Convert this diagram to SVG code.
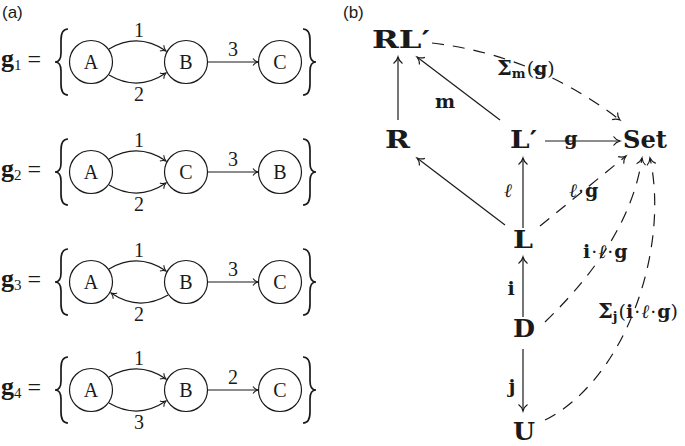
<svg xmlns="http://www.w3.org/2000/svg" width="685" height="446" viewBox="0 0 685 446">
<defs>
<style>
.ln{fill:none;stroke:#1a1a1a;stroke-width:1.2}
.ds{fill:none;stroke:#1a1a1a;stroke-width:1.2;stroke-dasharray:12 9}
.cir{fill:#fff;stroke:#1a1a1a;stroke-width:1.2}
.br{fill:none;stroke:#1a1a1a;stroke-width:1.7}
.t{font-family:"Liberation Serif","DejaVu Serif",serif;fill:#1a1a1a;font-size:20px}
.bt{font-family:"DejaVu Serif","Liberation Serif",serif;font-weight:bold;fill:#1a1a1a;font-size:25px}
.lb{font-family:"DejaVu Serif","Liberation Serif",serif;font-weight:bold;fill:#1a1a1a;font-size:19px}
.nw{font-weight:normal}
.sf{font-family:"Liberation Sans",Arial,sans-serif;fill:#1a1a1a;font-size:17px}
</style>
<marker id="ah" markerUnits="userSpaceOnUse" markerWidth="12" markerHeight="12" viewBox="-8 -6 10 12" refX="0" refY="0" orient="auto" overflow="visible">
<path d="M-6.5,-4.5 C-4.8,-2 -1.8,-0.5 0,0 C-1.8,0.5 -4.8,2 -6.5,4.5" fill="none" stroke="#1a1a1a" stroke-width="1.2" stroke-dasharray="none"/>
</marker>
<marker id="as" markerUnits="userSpaceOnUse" markerWidth="10" markerHeight="10" viewBox="-7 -5 9 10" refX="0" refY="0" orient="auto" overflow="visible">
<path d="M-5,-3.5 C-3.7,-1.5 -1.4,-0.4 0,0 C-1.4,0.4 -3.7,1.5 -5,3.5" fill="none" stroke="#1a1a1a" stroke-width="1.1"/>
</marker>
<path id="lbrace" d="M68,-33 C63,-33 61,-29 61,-22 L61,-9 C61,-3 59,0 55,0 C59,0 61,3 61,9 L61,22 C61,29 63,33 68,33"/>
<path id="rbrace" d="M303,-33 C308,-33 310,-29 310,-22 L310,-9 C310,-3 312,0 316,0 C312,0 310,3 310,9 L310,22 C310,29 308,33 303,33"/>
</defs>
<rect width="685" height="446" fill="#fff"/>

<text class="sf" x="2" y="18">(a)</text>
<text class="sf" x="343" y="18">(b)</text>

<!-- Row g1 -->
<g id="row-g1" transform="translate(0,62)">
<text class="t" x="1" y="5"><tspan font-weight="bold" font-size="26">g</tspan><tspan font-size="15" dy="3">1</tspan><tspan font-size="24" dy="-3" dx="6">=</tspan></text>
<use href="#lbrace" class="br"/>
<use href="#rbrace" class="br"/>
<g id="g1-edges">
<path class="ln" d="M109,-13 Q138,-30 166,-11" marker-end="url(#as)"/>
<path class="ln" d="M109,13 Q138,30 166,11" marker-end="url(#as)"/>
<path class="ln" d="M208,0 L258,0" marker-end="url(#as)"/>
<text class="t" x="139" y="-25" text-anchor="middle">1</text>
<text class="t" x="139" y="39" text-anchor="middle">2</text>
<text class="t" x="233" y="-6" text-anchor="middle">3</text>
</g>
<g id="g1-A"><circle class="cir" cx="91" cy="0" r="21.5"/><text class="t" x="91" y="7" text-anchor="middle">A</text></g>
<g id="g1-B"><circle class="cir" cx="186" cy="0" r="21.5"/><text class="t" x="186" y="7" text-anchor="middle">B</text></g>
<g id="g1-C"><circle class="cir" cx="280" cy="0" r="21.5"/><text class="t" x="280" y="7" text-anchor="middle">C</text></g>
</g>

<!-- Row g2 -->
<g id="row-g2" transform="translate(0,172)">
<text class="t" x="1" y="5"><tspan font-weight="bold" font-size="26">g</tspan><tspan font-size="15" dy="3">2</tspan><tspan font-size="24" dy="-3" dx="6">=</tspan></text>
<use href="#lbrace" class="br"/>
<use href="#rbrace" class="br"/>
<g id="g2-edges">
<path class="ln" d="M109,-13 Q138,-30 166,-11" marker-end="url(#as)"/>
<path class="ln" d="M109,13 Q138,30 166,11" marker-end="url(#as)"/>
<path class="ln" d="M208,0 L258,0" marker-end="url(#as)"/>
<text class="t" x="139" y="-25" text-anchor="middle">1</text>
<text class="t" x="139" y="39" text-anchor="middle">2</text>
<text class="t" x="233" y="-6" text-anchor="middle">3</text>
</g>
<g id="g2-A"><circle class="cir" cx="91" cy="0" r="21.5"/><text class="t" x="91" y="7" text-anchor="middle">A</text></g>
<g id="g2-C"><circle class="cir" cx="186" cy="0" r="21.5"/><text class="t" x="186" y="7" text-anchor="middle">C</text></g>
<g id="g2-B"><circle class="cir" cx="280" cy="0" r="21.5"/><text class="t" x="280" y="7" text-anchor="middle">B</text></g>
</g>

<!-- Row g3 -->
<g id="row-g3" transform="translate(0,282)">
<text class="t" x="1" y="5"><tspan font-weight="bold" font-size="26">g</tspan><tspan font-size="15" dy="3">3</tspan><tspan font-size="24" dy="-3" dx="6">=</tspan></text>
<use href="#lbrace" class="br"/>
<use href="#rbrace" class="br"/>
<g id="g3-edges">
<path class="ln" d="M109,-13 Q138,-30 166,-11" marker-end="url(#as)"/>
<path class="ln" d="M168,13 Q139,30 111,11" marker-end="url(#as)"/>
<path class="ln" d="M208,0 L258,0" marker-end="url(#as)"/>
<text class="t" x="139" y="-25" text-anchor="middle">1</text>
<text class="t" x="139" y="39" text-anchor="middle">2</text>
<text class="t" x="233" y="-6" text-anchor="middle">3</text>
</g>
<g id="g3-A"><circle class="cir" cx="91" cy="0" r="21.5"/><text class="t" x="91" y="7" text-anchor="middle">A</text></g>
<g id="g3-B"><circle class="cir" cx="186" cy="0" r="21.5"/><text class="t" x="186" y="7" text-anchor="middle">B</text></g>
<g id="g3-C"><circle class="cir" cx="280" cy="0" r="21.5"/><text class="t" x="280" y="7" text-anchor="middle">C</text></g>
</g>

<!-- Row g4 -->
<g id="row-g4" transform="translate(0,390)">
<text class="t" x="1" y="5"><tspan font-weight="bold" font-size="26">g</tspan><tspan font-size="15" dy="3">4</tspan><tspan font-size="24" dy="-3" dx="6">=</tspan></text>
<use href="#lbrace" class="br"/>
<use href="#rbrace" class="br"/>
<g id="g4-edges">
<path class="ln" d="M109,-13 Q138,-30 166,-11" marker-end="url(#as)"/>
<path class="ln" d="M109,13 Q138,30 166,11" marker-end="url(#as)"/>
<path class="ln" d="M208,0 L258,0" marker-end="url(#as)"/>
<text class="t" x="139" y="-25" text-anchor="middle">1</text>
<text class="t" x="139" y="39" text-anchor="middle">3</text>
<text class="t" x="233" y="-6" text-anchor="middle">2</text>
</g>
<g id="g4-A"><circle class="cir" cx="91" cy="0" r="21.5"/><text class="t" x="91" y="7" text-anchor="middle">A</text></g>
<g id="g4-B"><circle class="cir" cx="186" cy="0" r="21.5"/><text class="t" x="186" y="7" text-anchor="middle">B</text></g>
<g id="g4-C"><circle class="cir" cx="280" cy="0" r="21.5"/><text class="t" x="280" y="7" text-anchor="middle">C</text></g>
</g>

<!-- Panel (b) connectors -->
<g id="connectors">
<path class="ln" d="M398,120 L398,57" marker-end="url(#ah)"/>
<path class="ln" d="M500,120 L417,57" marker-end="url(#ah)"/>
<path class="ln" d="M545,141 L620,141" marker-end="url(#ah)"/>
<path class="ds" d="M432,43 Q535,55 620,120" marker-end="url(#ah)"/>
<path class="ln" d="M505,225 L417,158" marker-end="url(#ah)"/>
<path class="ln" d="M523,228 L523,158" marker-end="url(#ah)"/>
<path class="ds" d="M540,226 L626,156" marker-end="url(#ah)"/>
<path class="ln" d="M523,317 L523,257" marker-end="url(#ah)"/>
<path class="ds" d="M545,322 Q630,240 642,158" marker-end="url(#ah)"/>
<path class="ln" d="M523,349 L523,411" marker-end="url(#ah)"/>
<path class="ds" d="M545,420 C625,380 670,250 650,158" marker-end="url(#ah)"/>
<text class="lb" x="445" y="108" text-anchor="middle">m</text>
<text class="lb" x="571" y="145" text-anchor="middle">g</text>
<text class="lb nw" x="508" y="197" text-anchor="middle" font-style="italic">ℓ</text>
<text class="lb" x="511" y="295" text-anchor="middle">i</text>
<text class="lb" x="512" y="393" text-anchor="middle">j</text>
<text class="lb" x="569" y="197"><tspan class="nw" font-style="italic">ℓ</tspan><tspan class="nw" dx="1">·</tspan><tspan dx="1">g</tspan></text>
<text class="lb" x="583" y="258">i<tspan class="nw" dx="1">·</tspan><tspan class="nw" dx="1" font-style="italic">ℓ</tspan><tspan class="nw" dx="1">·</tspan><tspan dx="1">g</tspan></text>
<text class="lb" x="497" y="75"><tspan font-size="21">Σ</tspan><tspan font-size="13" dy="3">m</tspan><tspan dy="-3" dx="1" class="nw">(</tspan>g<tspan class="nw">)</tspan></text>
<text class="lb" x="598" y="318"><tspan font-size="21">Σ</tspan><tspan font-size="13" dy="3">j</tspan><tspan dy="-3" dx="1" class="nw">(</tspan>i<tspan class="nw" dx="1">·</tspan><tspan class="nw" dx="1" font-style="italic">ℓ</tspan><tspan class="nw" dx="1">·</tspan><tspan dx="1">g</tspan><tspan class="nw">)</tspan></text>
</g>

<!-- Panel (b) nodes -->
<g id="RLp"><text class="bt" x="372" y="48" textLength="58" lengthAdjust="spacingAndGlyphs">RL′</text></g>
<g id="R"><text class="bt" x="385" y="148" textLength="25" lengthAdjust="spacingAndGlyphs">R</text></g>
<g id="Lp"><text class="bt" x="510" y="148" textLength="27" lengthAdjust="spacingAndGlyphs">L′</text></g>
<g id="Set"><text class="bt" x="623" y="148" textLength="44" lengthAdjust="spacingAndGlyphs">Set</text></g>
<g id="L"><text class="bt" x="513" y="248" textLength="20" lengthAdjust="spacingAndGlyphs">L</text></g>
<g id="D"><text class="bt" x="513" y="337" textLength="22" lengthAdjust="spacingAndGlyphs">D</text></g>
<g id="U"><text class="bt" x="513" y="440" font-size="24" textLength="22" lengthAdjust="spacingAndGlyphs">U</text></g>
</svg>
